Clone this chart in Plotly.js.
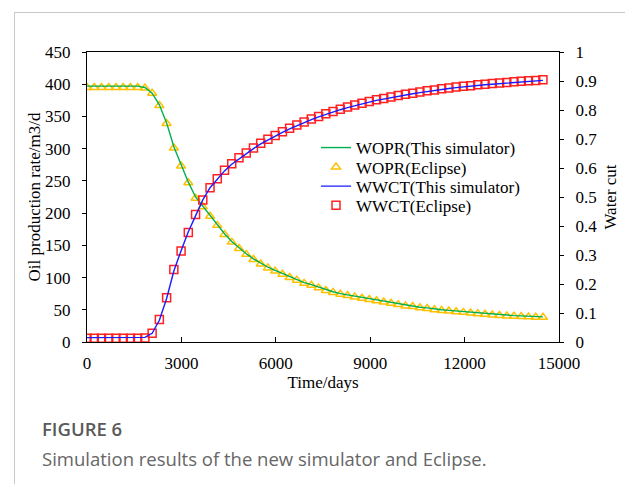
<!DOCTYPE html>
<html>
<head>
<meta charset="utf-8">
<script src="https://cdn.plot.ly/plotly-3.0.1.min.js"></script>
<style>
  html, body { margin: 0; padding: 0; background: #fff; }
  #wrap { position: relative; width: 625px; height: 484px; }
  #chart { position: absolute; left: 0; top: 0; width: 625px; height: 484px; }
  #frame { position: absolute; left: 14px; top: 12px; width: 611px; height: 472px;
           border-left: 1px solid #c8c8c8; border-top: 1px solid #c8c8c8; pointer-events: none; }
</style>
</head>
<body>
<div id="wrap">
  <div id="chart"></div>
  <div id="frame"></div>
</div>
<script>
// Time (days)
const timeDays = [0, 230, 460, 690, 920, 1150, 1380, 1610, 1840, 2070,
  2300, 2530, 2760, 2990, 3220, 3450, 3680, 3910, 4140, 4370,
  4600, 4830, 5060, 5290, 5520, 5750, 5980, 6210, 6440, 6670,
  6900, 7130, 7360, 7590, 7820, 8050, 8280, 8510, 8740, 8970,
  9200, 9430, 9660, 9890, 10120, 10350, 10580, 10810, 11040, 11270,
  11500, 11730, 11960, 12190, 12420, 12650, 12880, 13110, 13340, 13570,
  13800, 14030, 14260, 14490];

// Oil production rate (m3/d) - this simulator
const woprSim = [397, 397, 397, 397, 397, 397, 397, 397, 395, 386,
  368, 340, 303, 274, 248, 225, 211, 196, 182, 168,
  156, 146, 137, 129, 122, 116, 111, 106, 101, 97,
  92, 89, 85, 81, 78, 75, 73, 71, 69, 67,
  65, 63, 61, 59, 57, 56, 54, 53, 51, 50,
  49, 48, 47, 46, 45, 44, 43, 42, 41.5, 41,
  40.5, 40, 39.5, 39];

// Oil production rate (m3/d) - Eclipse
const woprEcl = [395, 395, 395, 395, 395, 395, 395, 395, 394, 386,
  367, 339, 301, 273, 247, 223, 210, 195, 181, 167,
  155, 145, 136, 128, 121, 115, 110, 105, 100, 96,
  91, 88, 84, 80, 77, 74, 72, 70, 68, 66,
  64, 62, 60, 58, 56, 55, 53, 52, 50, 49,
  48, 47, 46, 45, 44, 43, 42, 41, 40.5, 40,
  39.5, 39, 38.5, 38.5];

// Water cut - this simulator
const wwctSim = [0.015, 0.015, 0.015, 0.015, 0.015, 0.015, 0.015, 0.015, 0.016, 0.03,
  0.075, 0.15, 0.245, 0.315, 0.38, 0.435, 0.49, 0.532, 0.563, 0.59,
  0.613, 0.632, 0.65, 0.667, 0.683, 0.697, 0.71, 0.723, 0.735, 0.746,
  0.757, 0.767, 0.776, 0.785, 0.793, 0.801, 0.808, 0.815, 0.821, 0.827,
  0.833, 0.838, 0.843, 0.848, 0.852, 0.856, 0.86, 0.864, 0.867, 0.871,
  0.874, 0.877, 0.88, 0.882, 0.885, 0.887, 0.889, 0.891, 0.893, 0.895,
  0.897, 0.899, 0.9, 0.902];

// Water cut - Eclipse
const wwctEcl = [0.013, 0.013, 0.013, 0.013, 0.013, 0.013, 0.013, 0.013, 0.014, 0.03,
  0.078, 0.153, 0.25, 0.314, 0.378, 0.44, 0.49, 0.532, 0.563, 0.592,
  0.615, 0.635, 0.652, 0.669, 0.685, 0.699, 0.712, 0.725, 0.737, 0.748,
  0.759, 0.769, 0.778, 0.787, 0.795, 0.803, 0.81, 0.817, 0.823, 0.829,
  0.835, 0.84, 0.845, 0.85, 0.854, 0.858, 0.862, 0.866, 0.869, 0.873,
  0.876, 0.879, 0.882, 0.884, 0.887, 0.889, 0.891, 0.893, 0.895, 0.897,
  0.899, 0.901, 0.902, 0.904];

const xTicks = [0, 3000, 6000, 9000, 12000, 15000];
const yLeftTicks = [0, 50, 100, 150, 200, 250, 300, 350, 400, 450];
const yRightTicks = [0, 0.1, 0.2, 0.3, 0.4, 0.5, 0.6, 0.7, 0.8, 0.9, 1];
const yRightLabels = ['0', '0.1', '0.2', '0.3', '0.4', '0.5', '0.6', '0.7', '0.8', '0.9', '1'];

const serif = 'Liberation Serif, Times New Roman, serif';
const FS = 17;

const traces = [
  { x: timeDays, y: woprEcl, name: 'WOPR(Eclipse)', mode: 'markers', yaxis: 'y', legend: 'legend2',
    marker: { symbol: 'triangle-up-open', size: 8, color: '#ffc000', line: { width: 1.5, color: '#ffc000' } } },
  { x: timeDays, y: wwctEcl, name: 'WWCT(Eclipse)', mode: 'markers', yaxis: 'y2', legend: 'legend4',
    marker: { symbol: 'square-open', size: 8, color: '#ff2020', line: { width: 1.5, color: '#ff2020' } } },
  { x: timeDays, y: woprSim, name: 'WOPR(This simulator)', mode: 'lines', yaxis: 'y', legend: 'legend',
    line: { color: '#00b050', width: 1.4 } },
  { x: timeDays, y: wwctSim, name: 'WWCT(This simulator)', mode: 'lines', yaxis: 'y2', legend: 'legend3',
    line: { color: '#1a1aff', width: 1.4 } }
];

function leg(y) {
  return { x: 0.4852, xanchor: 'left', y: y, yanchor: 'top', bgcolor: 'rgba(0,0,0,0)',
           borderwidth: 0, font: { family: serif, size: FS, color: '#000' } };
}

const layout = {
  width: 625, height: 484,
  margin: { l: 87, r: 66, t: 52, b: 142 },
  paper_bgcolor: '#ffffff', plot_bgcolor: '#ffffff',
  font: { family: serif, size: FS, color: '#000' },
  showlegend: true,
  legend: leg(0.731),
  legend2: leg(0.664),
  legend3: leg(0.598),
  legend4: leg(0.532),
  xaxis: {
    range: [0, 15000], tickmode: 'array', tickvals: xTicks, ticktext: xTicks.map(String),
    ticks: 'inside', ticklen: 5, tickcolor: '#000', tickwidth: 1, ticklabelstandoff: 6,
    showline: true, linecolor: '#000', linewidth: 1, mirror: true,
    showgrid: false, zeroline: false,
    tickfont: { family: serif, size: FS, color: '#000' },
    title: { text: 'Time/days', font: { family: serif, size: FS, color: '#000' }, standoff: 1 }
  },
  yaxis: {
    range: [0, 450], tickmode: 'array', tickvals: yLeftTicks, ticktext: yLeftTicks.map(String),
    ticks: 'outside', ticklen: 4, tickcolor: '#000', tickwidth: 1, ticklabelstandoff: 8,
    showline: true, linecolor: '#000', linewidth: 1,
    showgrid: false, zeroline: false,
    tickfont: { family: serif, size: FS, color: '#000' },
    title: { text: 'Oil production rate/m3/d', font: { family: serif, size: FS, color: '#000' }, standoff: 0 }
  },
  yaxis2: {
    overlaying: 'y', side: 'right',
    range: [0, 1], tickmode: 'array', tickvals: yRightTicks, ticktext: yRightLabels,
    ticks: 'outside', ticklen: 4, tickcolor: '#000', tickwidth: 1, ticklabelstandoff: 8,
    showline: true, linecolor: '#000', linewidth: 1,
    showgrid: false, zeroline: false,
    tickfont: { family: serif, size: FS, color: '#000' },
    title: { text: 'Water cut', font: { family: serif, size: FS, color: '#000' }, standoff: 7 }
  },
  annotations: [
    { text: 'FIGURE 6', xref: 'paper', yref: 'paper', x: -0.1, y: -0.2966,
      xanchor: 'left', yanchor: 'middle', showarrow: false,
      font: { family: 'Open Sans, Noto Sans, sans-serif', size: 18.5, color: '#5a5a5a', weight: 600 } },
    { text: 'Simulation results of the new simulator and Eclipse.', xref: 'paper', yref: 'paper',
      x: -0.1, y: -0.40, xanchor: 'left', yanchor: 'middle', showarrow: false,
      font: { family: 'Open Sans, Noto Sans, sans-serif', size: 18.5, color: '#666666' } }
  ]
};

Plotly.newPlot('chart', traces, layout, { displayModeBar: false, staticPlot: true });
</script>
</body>
</html>
